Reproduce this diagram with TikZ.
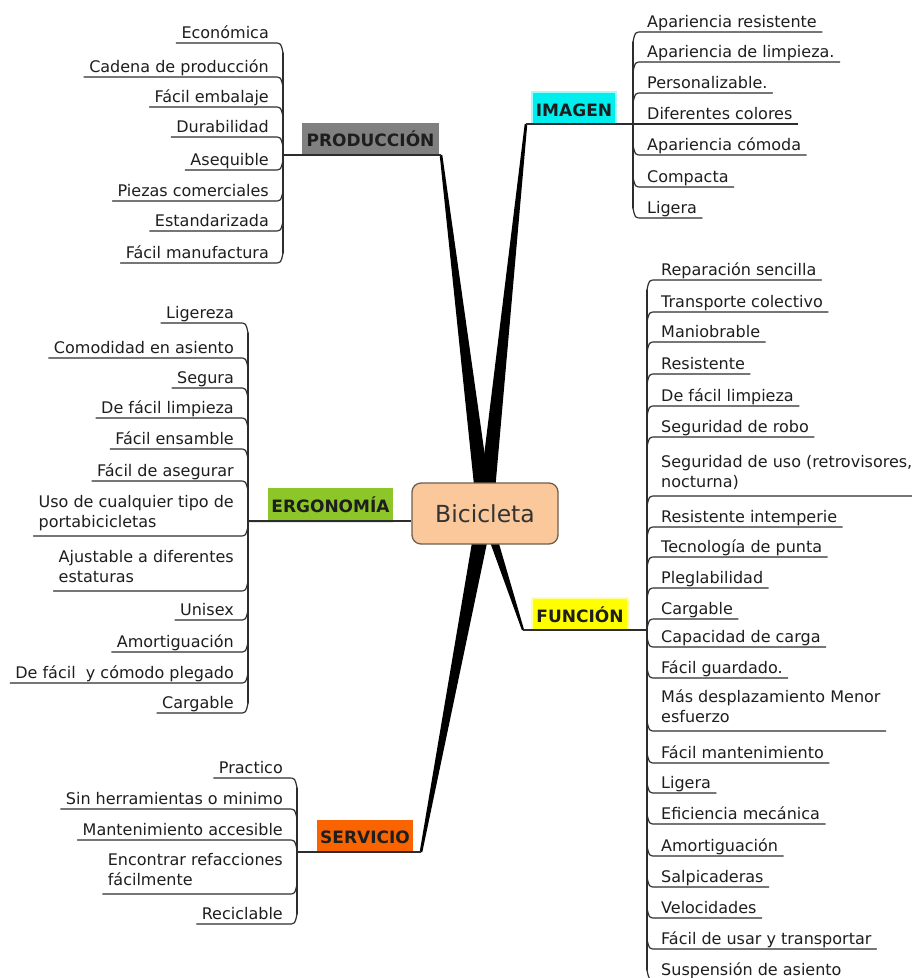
\documentclass[tikz,border=0pt]{standalone}
\usepackage{fontspec}
\setmainfont{DejaVu Sans}
\usetikzlibrary{calc}

\definecolor{prodgray}{RGB}{128,128,128}
\definecolor{imagcyan}{RGB}{0,238,238}
\definecolor{ergogreen}{RGB}{141,198,40}
\definecolor{funcyellow}{RGB}{255,255,0}
\definecolor{servorange}{RGB}{250,100,0}
\definecolor{corefill}{RGB}{250,200,155}
\definecolor{coreline}{RGB}{110,95,80}
\definecolor{inkline}{RGB}{45,45,45}
\definecolor{inktext}{RGB}{30,30,30}

% struts giving every leaf the same depth below its last baseline
\newcommand\lstrut{\rule[-4.5pt]{0pt}{14pt}}
\newcommand\mstrut{\rule[-8pt]{0pt}{0pt}}

\tikzset{
  leaf/.style={font=\fontsize{16}{20}\selectfont, text=inktext,
    inner xsep=5pt, inner ysep=0pt, align=left},
  link/.style={draw=inkline, line width=1.2pt, line cap=round, line join=round},
  trunk/.style={draw=inkline, line width=2pt},
  topic/.style={font=\bfseries\fontsize{17}{20}\selectfont, text=inktext,
    inner sep=0pt, text height=16pt, text depth=0pt},
  glow/.style={preaction={draw=#1!35, line width=4pt}},
  core/.style={rounded corners=9pt, fill=corefill, draw=coreline, line width=1.3pt,
    minimum width=146pt, minimum height=61pt, text=black!80,
    font=\fontsize{23.5}{28}\selectfont, text height=17pt, text depth=0pt},
  taperfill/.style={fill=black},
}

% leaf on the left of its bracket: name, bracket x, underline y, joint offset, text
\newcommand\leafL[5]{%
  \node[leaf, anchor=south east] (#1) at (#2-9,#3) {#5\lstrut};
  \coordinate (#1j) at (#2,#3#4);
  \draw[link] (#1.south west) -- (#1.south east) .. controls (#2-2,#3) .. (#1j);
}
% leaf on the right of its bracket
\newcommand\leafR[5]{%
  \node[leaf, anchor=south west] (#1) at (#2+9,#3) {#5\lstrut};
  \coordinate (#1j) at (#2,#3#4);
  \draw[link] (#1j) .. controls (#2+2,#3) .. (#1.south west) -- (#1.south east);
}
% tapered main branch: from, to, half width at from, half width at to
\newcommand\taper[4]{%
  \fill[taperfill] ($(#1)!#3!90:(#2)$) -- ($(#2)!#4!-90:(#1)$)
    -- ($(#2)!#4!90:(#1)$) -- ($(#1)!#3!-90:(#2)$) -- cycle;
}

\begin{document}
\begin{tikzpicture}[x=1pt,y=-1pt]
\fill[white] (0,0) rectangle (912,978);
\useasboundingbox (0,0) rectangle (912,978);

% ---------- main topics ----------
\node[topic, fill=prodgray, minimum width=137pt, minimum height=31pt] (prod) at (370.5,138.5) {PRODUCCIÓN};
\node[topic, fill=imagcyan, glow=imagcyan, minimum width=82pt, minimum height=30pt] (imag) at (574,108) {IMAGEN};
\node[topic, fill=ergogreen, minimum width=125pt, minimum height=33pt] (ergo) at (330.5,504.5) {ERGONOMÍA};
\node[topic, fill=funcyellow, glow=funcyellow, minimum width=94pt, minimum height=30pt] (func) at (580,614) {FUNCIÓN};
\node[topic, fill=servorange, minimum width=96pt, minimum height=31pt] (serv) at (365,835.5) {SERVICIO};

% ---------- end points of the branches ----------
\coordinate (hub) at (485,513.5);
\coordinate (prodE) at (441,155);
\coordinate (imagE) at (526,124);
\coordinate (funcE) at (523,630);
\coordinate (servE) at (421,852);
\coordinate (prodB) at (283,155);
\coordinate (imagB) at (633,124);
\coordinate (ergoB) at (248,521);
\coordinate (funcB) at (647,630);
\coordinate (servB) at (297,852);

% ---------- tapered branches from the centre ----------
\taper{hub}{prodE}{8pt}{1.3pt}
\taper{hub}{imagE}{8pt}{1.3pt}
\taper{hub}{servE}{8pt}{1.3pt}
\taper{hub}{funcE}{5pt}{1.1pt}

% ---------- topic underlines ----------
\draw[trunk] (prodB) -- (prodE);
\draw[trunk] (imagE) -- (imagB);
\draw[trunk] (ergoB) -- (ergo.south east);
\draw[trunk] (funcE) -- (funcB);
\draw[trunk] (servB) -- (servE);

% ---------- central topic ----------
\node[core] (bici) at (hub) {Bicicleta};
\draw[inkline, line width=2.5pt] (ergo.south east) -- (bici.west |- ergo.south east);

% ---------- PRODUCCIÓN ----------
\leafL{p1}{283}{43}{+10}{Económica}
\leafL{p2}{283}{77}{+10}{Cadena de producción}
\leafL{p3}{283}{107}{+10}{Fácil embalaje}
\leafL{p4}{283}{137}{+10}{Durabilidad}
\leafL{p5}{283}{170}{-10}{Asequible}
\leafL{p6}{283}{201}{-10}{Piezas comerciales}
\leafL{p7}{283}{231}{-10}{Estandarizada}
\leafL{p8}{283}{263}{-10}{Fácil manufactura}
\draw[link] (p1j) -- (p8j);

% ---------- IMAGEN ----------
\leafR{i1}{633}{32}{+10}{Apariencia resistente}
\leafR{i2}{633}{62}{+10}{Apariencia de limpieza.}
\leafR{i3}{633}{93}{+10}{Personalizable.}
\leafR{i4}{633}{124}{+0}{Diferentes colores}
\leafR{i5}{633}{155}{-10}{Apariencia cómoda}
\leafR{i6}{633}{187}{-10}{Compacta}
\leafR{i7}{633}{218}{-10}{Ligera}
\draw[link] (i1j) -- (i7j);

% ---------- ERGONOMÍA ----------
\leafL{e1}{248}{323}{+10}{Ligereza}
\leafL{e2}{248}{358}{+10}{Comodidad en asiento}
\leafL{e3}{248}{388}{+10}{Segura}
\leafL{e4}{248}{418}{+10}{De fácil limpieza}
\leafL{e5}{248}{449}{+10}{Fácil ensamble}
\leafL{e6}{248}{481}{+10}{Fácil de asegurar}
\leafL{e7}{248}{536}{-10}{Uso de cualquier tipo de\\portabicicletas\mstrut}
\leafL{e8}{248}{591}{-10}{Ajustable a diferentes\\estaturas\mstrut}
\leafL{e9}{248}{620}{-10}{Unisex}
\leafL{e10}{248}{652}{-10}{Amortiguación}
\leafL{e11}{248}{683}{-10}{De fácil\ \ y cómodo plegado}
\leafL{e12}{248}{713}{-10}{Cargable}
\draw[link] (e1j) -- (e12j);

% ---------- SERVICIO ----------
\leafL{s1}{297}{778}{+10}{Practico}
\leafL{s2}{297}{809}{+10}{Sin herramientas o minimo}
\leafL{s3}{297}{840}{+10}{Mantenimiento accesible}
\leafL{s4}{297}{894}{-10}{Encontrar refacciones\\fácilmente\mstrut}
\leafL{s5}{297}{924}{-10}{Reciclable}
\draw[link] (s1j) -- (s5j);

% ---------- FUNCIÓN ----------
\leafR{f1}{647}{280}{+10}{Reparación sencilla}
\leafR{f2}{647}{312}{+10}{Transporte colectivo}
\leafR{f3}{647}{342}{+10}{Maniobrable}
\leafR{f4}{647}{374}{+10}{Resistente}
\leafR{f5}{647}{406}{+10}{De fácil limpieza}
\leafR{f6}{647}{437}{+10}{Seguridad de robo}
\leafR{f7}{647}{496}{+10}{Seguridad de uso (retrovisores,\\nocturna)\mstrut}
\leafR{f8}{647}{527}{+10}{Resistente intemperie}
\leafR{f9}{647}{557}{+10}{Tecnología de punta}
\leafR{f10}{647}{588}{+10}{Pleglabilidad}
\leafR{f11}{647}{619}{+10}{Cargable}
\leafR{f12}{647}{647}{-10}{Capacidad de carga}
\leafR{f13}{647}{678}{-10}{Fácil guardado.}
\leafR{f14}{647}{731}{-10}{Más desplazamiento Menor\\esfuerzo\mstrut}
\leafR{f15}{647}{763}{-10}{Fácil mantenimiento}
\leafR{f16}{647}{793}{-10}{Ligera}
\leafR{f17}{647}{824}{-10}{Eficiencia mecánica}
\leafR{f18}{647}{856}{-10}{Amortiguación}
\leafR{f19}{647}{887}{-10}{Salpicaderas}
\leafR{f20}{647}{918}{-10}{Velocidades}
\leafR{f21}{647}{949}{-10}{Fácil de usar y transportar}
\leafR{f22}{647}{980}{-10}{Suspensión de asiento}
\draw[link] (f1j) -- (f22j);
\end{tikzpicture}
\end{document}
